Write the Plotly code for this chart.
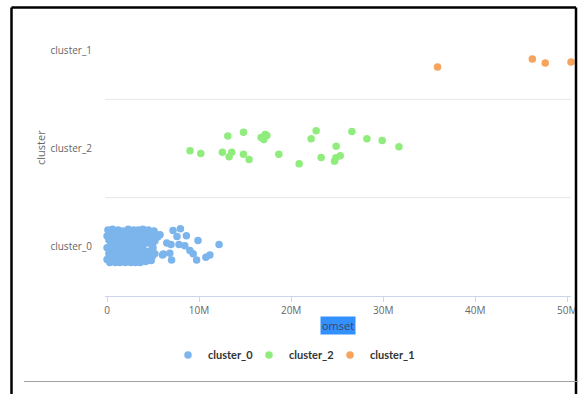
import plotly.graph_objects as go

# ---- data ----
categories = ["cluster_0", "cluster_2", "cluster_1"]   # bottom -> top
tick_vals_x = [0, 10e6, 20e6, 30e6, 40e6, 50e6]
tick_text_x = ["0", "10M", "20M", "30M", "40M", "50M"]

# omset values (in millions) and vertical jitter offsets
c0_omset = [
    0.1, 0.6, 1.2, 1.7, 2.3, 2.9, 3.4, 3.9, 4.5, 5.1,
    0.3, 0.9, 1.5, 2.0, 2.6, 3.1, 3.7, 4.2, 4.8, 5.3,
    0.0, 0.5, 1.0, 1.6, 2.1, 2.7, 3.2, 3.8, 4.3, 4.9, 5.5,
    0.2, 0.8, 1.3, 1.9, 2.5, 3.0, 3.6, 4.1, 4.7, 5.2,
    0.4, 1.0, 1.5, 2.1, 2.7, 3.2, 3.8, 4.4, 4.9,
    0.0, 0.6, 1.1, 1.7, 2.2, 2.8, 3.3, 3.9, 5.0,
    0.3, 0.9, 1.4, 2.0, 2.5, 3.1, 3.6, 4.2, 4.7,
    0.2, 0.7, 1.3, 1.8, 2.4, 2.9, 3.5, 4.0, 4.6, 5.2,
    0.4, 1.0, 1.5, 2.1, 2.6, 3.2, 3.8, 4.3, 4.9,
    0.0, 0.5, 1.0, 1.6, 2.1, 2.7, 3.2, 3.7, 4.3, 4.8,
    0.3, 0.9, 1.4, 2.0, 2.6, 3.1, 3.6, 4.2,
    7.17, 7.97, 7.60, 8.62, 9.88, 12.17, 6.95, 7.82, 8.45, 9.00,
    9.36, 6.82, 6.03, 7.01, 9.73, 10.74, 11.17, 5.76, 6.49, 6.12,
]
c0_jitter = [
    0.17, 0.18, 0.17, 0.16, 0.18, 0.17, 0.17, 0.18, 0.17, 0.16,
    0.14, 0.13, 0.14, 0.15, 0.13, 0.14, 0.15, 0.13, 0.14, 0.13,
    0.11, 0.10, 0.12, 0.11, 0.10, 0.11, 0.12, 0.10, 0.11, 0.12, 0.10,
    0.07, 0.08, 0.07, 0.08, 0.07, 0.08, 0.07, 0.08, 0.07, 0.06,
    0.03, 0.04, 0.02, 0.03, 0.04, 0.03, 0.02, 0.04, 0.03,
    -0.01, 0.00, -0.02, -0.01, 0.00, -0.01, -0.02, 0.00, -0.01,
    -0.04, -0.04, -0.05, -0.04, -0.05, -0.04, -0.04, -0.05, -0.04,
    -0.07, -0.08, -0.08, -0.07, -0.08, -0.07, -0.08, -0.07, -0.08, -0.07,
    -0.10, -0.10, -0.11, -0.10, -0.10, -0.11, -0.10, -0.11, -0.10,
    -0.13, -0.14, -0.13, -0.14, -0.13, -0.14, -0.13, -0.14, -0.13, -0.14,
    -0.16, -0.16, -0.16, -0.16, -0.16, -0.16, -0.16, -0.15,
    0.166, 0.184, 0.105, 0.112, 0.064, 0.023, 0.023, 0.023, 0.010, -0.038,
    -0.071, -0.064, -0.082, -0.133, -0.133, -0.105, -0.082, 0.122, 0.038, -0.074,
]

c2_omset = [9.02, 10.18, 12.53, 13.12, 13.55, 13.26, 14.82, 14.82, 15.43, 16.74,
            17.17, 17.36, 17.03, 18.66, 20.87, 22.17, 22.72, 23.26, 24.89, 24.71,
            24.86, 25.33, 26.60, 28.23, 29.89, 31.71]
c2_jitter = [-0.023, -0.051, -0.038, 0.126, -0.038, -0.085, 0.166, -0.058, -0.112, 0.112,
             0.143, 0.133, 0.092, -0.058, -0.156, 0.099, 0.181, -0.092, 0.023, -0.130,
             -0.095, -0.074, 0.173, 0.099, 0.082, 0.017]

c1_omset = [35.9, 46.2, 47.6, 50.4]
c1_jitter = [-0.17, -0.09, -0.13, -0.12]

series = [
    ("cluster_0", c0_omset, c0_jitter, "#7cb5ec"),
    ("cluster_2", c2_omset, c2_jitter, "#90ed7d"),
    ("cluster_1", c1_omset, c1_jitter, "#f7a35c"),
]

fig = go.Figure()
for name, om, jit, color in series:
    idx = categories.index(name)
    fig.add_trace(go.Scatter(
        x=[v * 1e6 for v in om],
        y=[idx + j for j in jit],
        mode="markers",
        name=name,
        cliponaxis=False,
        marker=dict(color=color, size=7.5, line=dict(width=0)),
    ))

# empty spacer entry so the last legend label is not clipped by the fixed entry width
fig.add_trace(go.Scatter(x=[None], y=[None], mode="markers", name=" ",
                         marker=dict(color="rgba(0,0,0,0)", size=1, line=dict(width=0)),
                         hoverinfo="skip"))

# ---- layout geometry (pixels) ----
W, H = 578, 394
L, R, T, B = 105, 7, 1, 98
pw, ph = W - L - R, H - T - B


def px(x):
    return (x - L) / pw


def py(y):
    return (H - B - y) / ph


shapes = []
# category band boundaries (grid lines)
for yb in [0.5, 1.5]:
    shapes.append(dict(type="line", xref="paper", yref="y", x0=0, x1=1, y0=yb, y1=yb,
                       line=dict(color="#e6e6e6", width=1), layer="below"))
# screenshot frame
frame = dict(color="black", width=2.5)
shapes.append(dict(type="line", xref="paper", yref="paper", x0=px(11.5), x1=px(11.5),
                   y0=py(7.5), y1=py(400), line=frame))
shapes.append(dict(type="line", xref="paper", yref="paper", x0=px(11.5), x1=px(576),
                   y0=py(7.5), y1=py(7.5), line=frame))
shapes.append(dict(type="line", xref="paper", yref="paper", x0=px(576), x1=px(576),
                   y0=py(7.5), y1=py(400), line=frame))
shapes.append(dict(type="line", xref="paper", yref="paper", x0=px(24), x1=px(578),
                   y0=py(381.5), y1=py(381.5), line=dict(color="#a0a0a0", width=1)))

font_family = "Open Sans, Lato, sans-serif"

fig.update_layout(
    width=W, height=H,
    margin=dict(l=L, r=R, t=T, b=B, pad=0),
    paper_bgcolor="white", plot_bgcolor="white",
    font=dict(family=font_family, color="#666666", size=10),
    showlegend=True,
    legend=dict(orientation="h", x=px(168), xanchor="left", y=py(355), yanchor="middle",
                font=dict(size=11, color="#333333", family="Lato, sans-serif", weight="bold"),
                itemwidth=30, entrywidth=36, entrywidthmode="pixels",
                bgcolor="rgba(0,0,0,0)"),
    xaxis=dict(range=[-0.22e6, 50.4e6], tickvals=tick_vals_x, ticktext=tick_text_x,
               showgrid=False, zeroline=False, showline=True, linecolor="#ccd6eb",
               ticks="outside", ticklen=5, tickcolor="#ccd6eb",
               tickfont=dict(size=10, color="#666666")),
    yaxis=dict(range=[-0.5, 2.5], tickvals=[0, 1, 2], ticktext=categories,
               showgrid=False, zeroline=False, showline=False, ticks="",
               ticklabelstandoff=12, tickfont=dict(size=10, color="#666666")),
    shapes=shapes,
    annotations=[
        dict(text="omset", xref="paper", yref="paper", x=px(338), y=py(325.5),
             showarrow=False, font=dict(size=11, color="#44445a", family=font_family),
             bgcolor="#3390ff", borderpad=1, xanchor="center", yanchor="middle"),
        dict(text="cluster", xref="paper", yref="paper", x=px(40), y=py(148),
             showarrow=False, textangle=-90, font=dict(size=11, color="#666666", family=font_family),
             xanchor="center", yanchor="middle"),
    ],
)

fig.write_html("out.html", config={"displayModeBar": False},
               post_script="document.body.style.margin='0';document.body.style.overflow='hidden';")
